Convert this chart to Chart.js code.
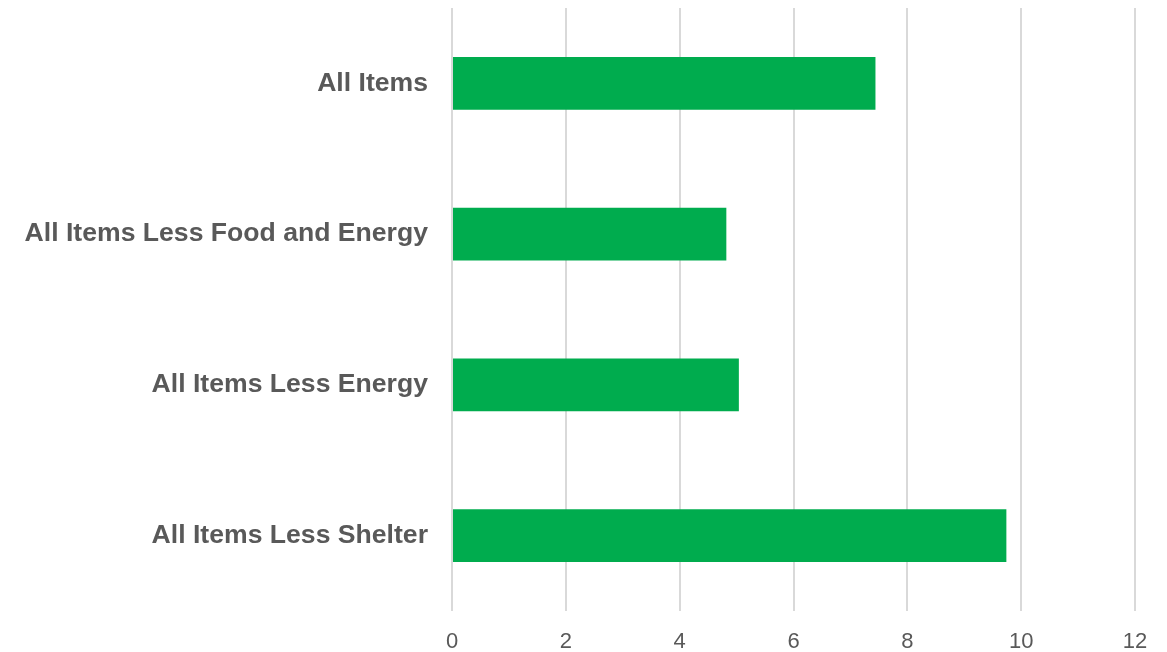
<!DOCTYPE html>
<html>
<head>
<meta charset="utf-8">
<script src="https://cdn.jsdelivr.net/npm/chart.js@4/dist/chart.umd.min.js"></script>
<style>
  html, body { margin: 0; padding: 0; background: #fff; }
  #wrap { width: 1167px; height: 652px; position: relative; }
</style>
</head>
<body>
<div id="wrap"><canvas id="cpiChart"></canvas></div>
<script>
// categorias e valores (variação %)
const categorias = ['All Items', 'All Items Less Food and Energy', 'All Items Less Energy', 'All Items Less Shelter'];
const valores = [7.44, 4.82, 5.04, 9.74];
const eixoX = { min: 0, max: 12, passo: 2 };

const ctx = document.getElementById('cpiChart').getContext('2d');

new Chart(ctx, {
    type: 'bar',
    data: {
        labels: categorias,
        datasets: [{
            data: valores,
            backgroundColor: '#00ac4e',
            borderWidth: 0,
            categoryPercentage: 1,
            barPercentage: 0.35
        }]
    },
    options: {
        indexAxis: 'y',
        responsive: true,
        maintainAspectRatio: false,
        animation: false,
        layout: { padding: { top: 8, right: 32, left: 0, bottom: 0 } },
        scales: {
            x: {
                min: eixoX.min,
                max: eixoX.max,
                ticks: {
                    stepSize: eixoX.passo,
                    color: '#595959',
                    font: { family: '"Liberation Sans", Arial, sans-serif', size: 22 },
                    padding: 18
                },
                grid: { color: '#d9d9d9', lineWidth: 2, drawTicks: false },
                border: { display: false },
                afterFit: function (scale) { scale.height = 41; }
            },
            y: {
                ticks: {
                    color: '#595959',
                    font: { family: '"Liberation Sans", Arial, sans-serif', size: 26.6, weight: 'bold' },
                    padding: 24
                },
                grid: { display: false, drawTicks: false },
                border: { display: false },
                afterFit: function (scale) {
                    // sem margem extra acima/abaixo dos rótulos
                    scale.width = 452;
                    scale.paddingTop = 0;
                    scale.paddingBottom = 0;
                }
            }
        },
        plugins: {
            legend: { display: false },
            tooltip: { enabled: false }
        }
    }
});
</script>
</body>
</html>
